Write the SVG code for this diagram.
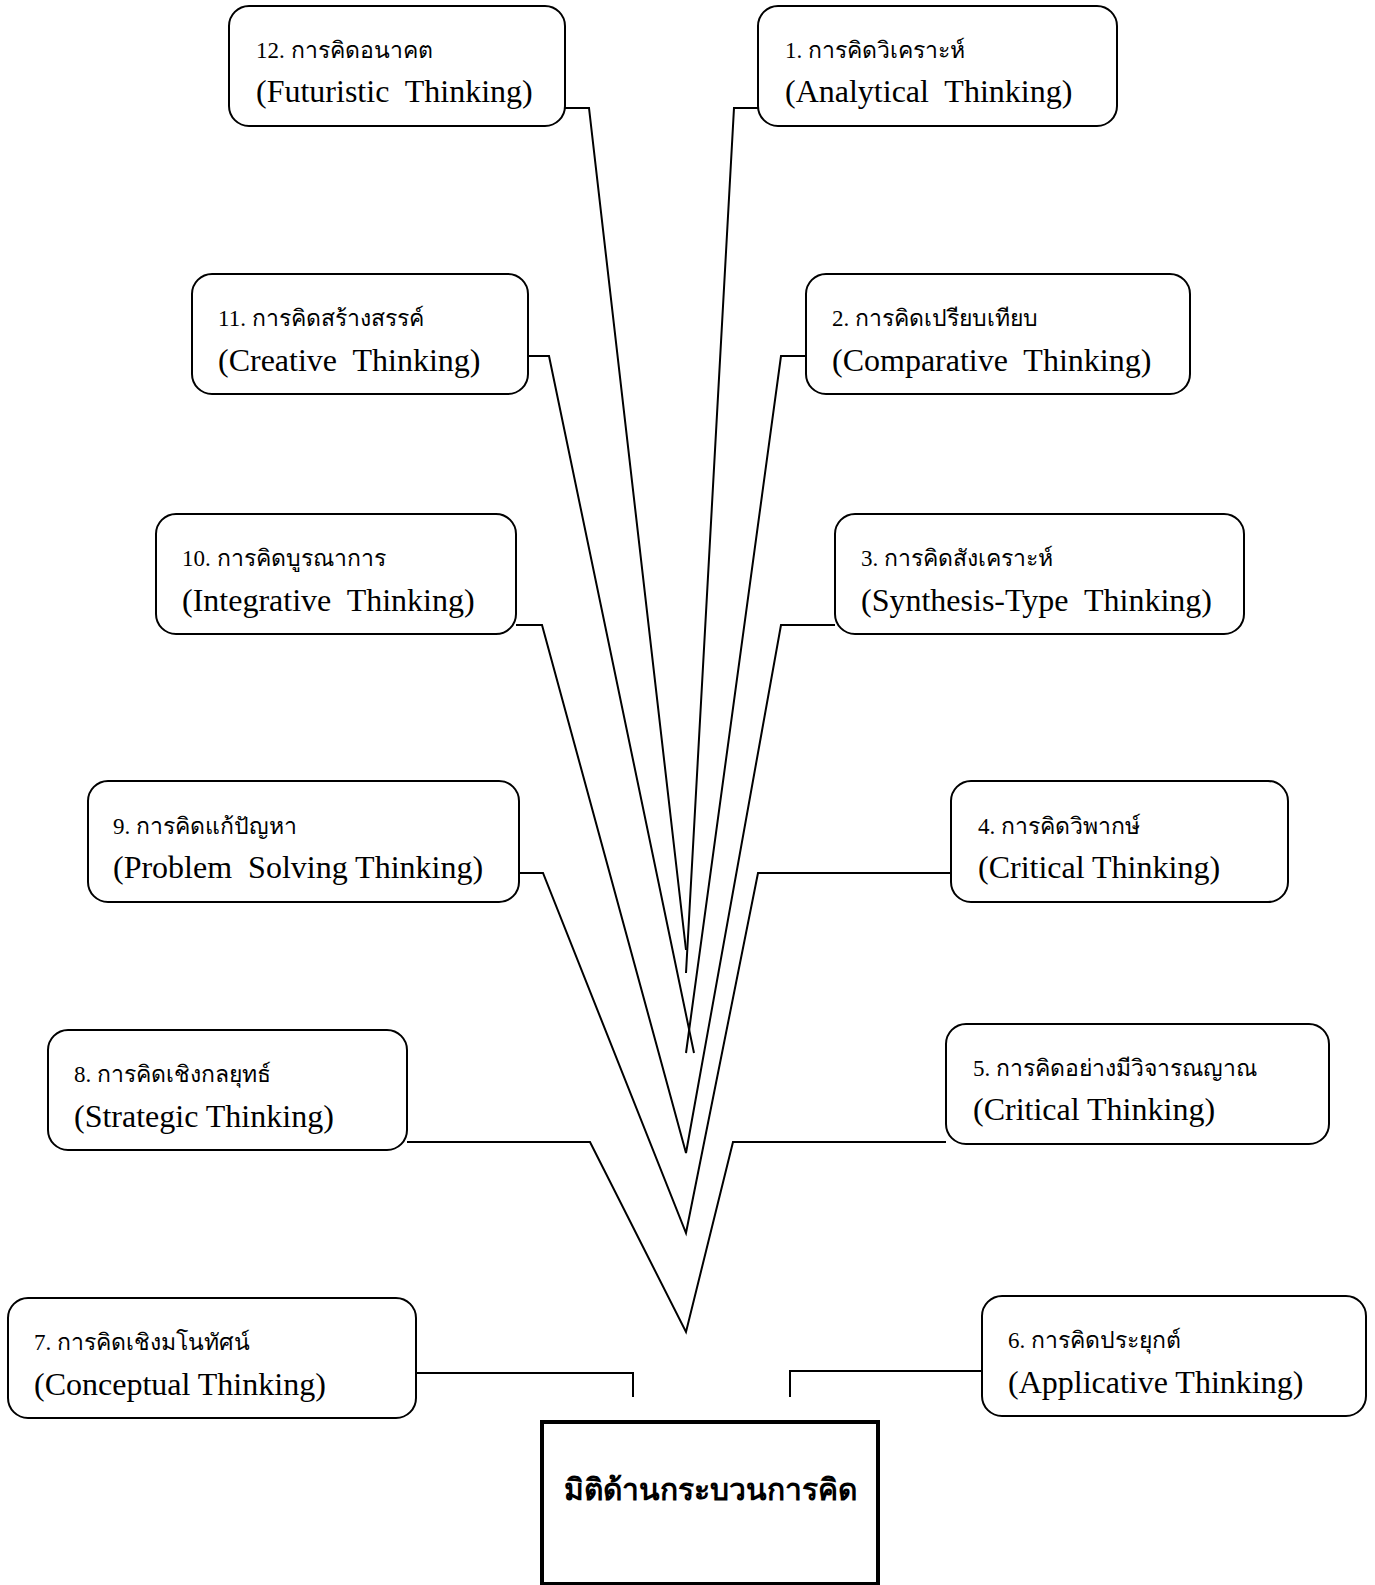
<svg xmlns="http://www.w3.org/2000/svg" width="1375" height="1585" viewBox="0 0 1375 1585">
<style>
.box{fill:#fff;stroke:#000;stroke-width:2}
.main{fill:#fff;stroke:#000;stroke-width:4}
.l1{font-family:"Liberation Serif","DejaVu Serif",serif;font-size:23px;fill:#000}
.l2{font-family:"Liberation Serif","DejaVu Serif",serif;font-size:32px;fill:#000;white-space:pre}
.ct{font-family:"DejaVu Sans","Noto Sans",sans-serif;font-size:30px;font-weight:bold;fill:#000}
#connectors path{fill:none;stroke:#000;stroke-width:2;stroke-linejoin:miter}
</style>
<g id="connectors">
<path d="M565,108 H589 L686,950"/>
<path d="M758,108 H734 L686,973"/>
<path d="M528,356 H549 L694,1053"/>
<path d="M806,356 H781 L686,1053"/>
<path d="M516,625 H542 L686,1153 L781,625 H835"/>
<path d="M519,873 H543 L686,1233 L758,873 H951"/>
<path d="M407,1142 H590 L686,1332 L733,1142 H946"/>
<path d="M416,1373 H633 V1397"/>
<path d="M982,1371 H790 V1397"/>
</g>
<g id="n12"><rect class="box" x="229" y="6" width="336" height="120" rx="20"/><text class="l1" x="256" y="58">12. การคิดอนาคต</text><text class="l2" x="256" y="102" xml:space="preserve">(Futuristic  Thinking)</text></g>
<g id="n1"><rect class="box" x="758" y="6" width="359" height="120" rx="20"/><text class="l1" x="785" y="58">1. การคิดวิเคราะห์</text><text class="l2" x="785" y="102" xml:space="preserve">(Analytical  Thinking)</text></g>
<g id="n11"><rect class="box" x="192" y="274" width="336" height="120" rx="20"/><text class="l1" x="218" y="326">11. การคิดสร้างสรรค์</text><text class="l2" x="218" y="371" xml:space="preserve">(Creative  Thinking)</text></g>
<g id="n2"><rect class="box" x="806" y="274" width="384" height="120" rx="20"/><text class="l1" x="832" y="326">2. การคิดเปรียบเทียบ</text><text class="l2" x="832" y="371" xml:space="preserve">(Comparative  Thinking)</text></g>
<g id="n10"><rect class="box" x="156" y="514" width="360" height="120" rx="20"/><text class="l1" x="182" y="566">10. การคิดบูรณาการ</text><text class="l2" x="182" y="611" xml:space="preserve">(Integrative  Thinking)</text></g>
<g id="n3"><rect class="box" x="835" y="514" width="409" height="120" rx="20"/><text class="l1" x="861" y="566">3. การคิดสังเคราะห์</text><text class="l2" x="861" y="611" xml:space="preserve">(Synthesis-Type  Thinking)</text></g>
<g id="n9"><rect class="box" x="88" y="781" width="431" height="121" rx="20"/><text class="l1" x="113" y="834">9. การคิดแก้ปัญหา</text><text class="l2" x="113" y="878" xml:space="preserve">(Problem  Solving Thinking)</text></g>
<g id="n4"><rect class="box" x="951" y="781" width="337" height="121" rx="20"/><text class="l1" x="978" y="834">4. การคิดวิพากษ์</text><text class="l2" x="978" y="878" xml:space="preserve">(Critical Thinking)</text></g>
<g id="n8"><rect class="box" x="48" y="1030" width="359" height="120" rx="20"/><text class="l1" x="74" y="1082">8. การคิดเชิงกลยุทธ์</text><text class="l2" x="74" y="1127" xml:space="preserve">(Strategic Thinking)</text></g>
<g id="n5"><rect class="box" x="946" y="1024" width="383" height="120" rx="20"/><text class="l1" x="973" y="1076">5. การคิดอย่างมีวิจารณญาณ</text><text class="l2" x="973" y="1120" xml:space="preserve">(Critical Thinking)</text></g>
<g id="n7"><rect class="box" x="8" y="1298" width="408" height="120" rx="20"/><text class="l1" x="34" y="1350">7. การคิดเชิงมโนทัศน์</text><text class="l2" x="34" y="1395" xml:space="preserve">(Conceptual Thinking)</text></g>
<g id="n6"><rect class="box" x="982" y="1296" width="384" height="120" rx="20"/><text class="l1" x="1008" y="1348">6. การคิดประยุกต์</text><text class="l2" x="1008" y="1393" xml:space="preserve">(Applicative Thinking)</text></g>
<g id="center"><rect class="main" x="542" y="1422" width="336" height="162"/><text class="ct" x="710" y="1500" text-anchor="middle">มิติด้านกระบวนการคิด</text></g>
</svg>
